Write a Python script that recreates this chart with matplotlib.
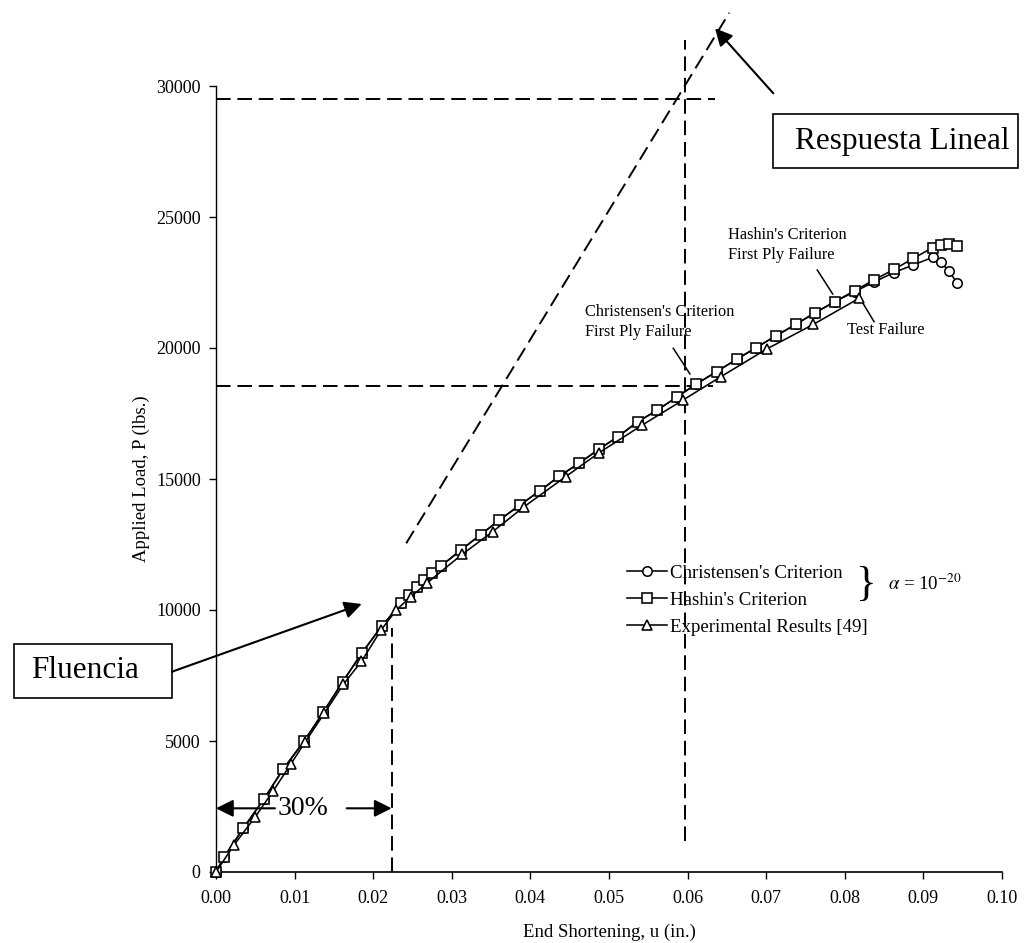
import matplotlib
matplotlib.use("Agg")
import matplotlib.pyplot as plt
from matplotlib.patches import Rectangle
from matplotlib.ticker import FormatStrFormatter

plt.rcParams['font.family'] = ['Liberation Serif', 'DejaVu Serif']
plt.rcParams['mathtext.fontset'] = 'stix'

# Hashin's criterion (squares)
hashin_u = [0.0, 0.00102, 0.00347, 0.00611, 0.00856, 0.0112, 0.01365, 0.01612, 0.01854,
            0.02108, 0.0236, 0.02459, 0.02561, 0.0265, 0.02754, 0.02859, 0.03117, 0.03368,
            0.03604, 0.03868, 0.04122, 0.04368, 0.04618, 0.04869, 0.05115, 0.05369, 0.05615,
            0.05869, 0.06113, 0.0637, 0.06625, 0.0687, 0.07121, 0.07375, 0.07625, 0.07875,
            0.08126, 0.08372, 0.08626, 0.08871, 0.09118, 0.0922, 0.09322, 0.09431]
hashin_p = [0, 560, 1670, 2790, 3930, 4990, 6100, 7260, 8350,
            9380, 10270, 10590, 10870, 11160, 11400, 11670, 12290, 12880,
            13430, 14010, 14550, 15110, 15600, 16130, 16620, 17190, 17630,
            18140, 18630, 19100, 19570, 20010, 20460, 20900, 21350, 21770,
            22190, 22600, 23000, 23420, 23830, 23930, 23970, 23890]

# Christensen's criterion (circles)
chris_u = hashin_u
chris_p = [0, 560, 1670, 2790, 3930, 4990, 6100, 7260, 8350,
           9380, 10270, 10590, 10870, 11160, 11400, 11670, 12290, 12880,
           13430, 14010, 14550, 15110, 15600, 16130, 16620, 17190, 17630,
           18140, 18630, 19100, 19570, 20010, 20460, 20900, 21350, 21770,
           22150, 22520, 22880, 23170, 23460, 23270, 22950, 22470]

# experimental results [49] (triangles)
exp_u = [0.0, 0.00229, 0.00496, 0.00729, 0.0095, 0.01132, 0.01378, 0.0162, 0.01851,
         0.02099, 0.02296, 0.02481, 0.02681, 0.0313, 0.0352, 0.03919, 0.04449, 0.04873,
         0.05424, 0.05945, 0.06421, 0.07006, 0.07599, 0.08184]
exp_p = [0, 1030, 2090, 3100, 4110, 4950, 6060, 7160, 8040,
         9230, 10010, 10510, 11020, 12120, 12990, 13940, 15090, 16000,
         17060, 18020, 18900, 19960, 20900, 21900]

xticks = [0.0, 0.01, 0.02, 0.03, 0.04, 0.05, 0.06, 0.07, 0.08, 0.09, 0.10]
yticks = [0, 5000, 10000, 15000, 20000, 25000, 30000]

# guide lines (dashed)
linear_u = [0.0242, 0.0653]
linear_p = [12545, 32795]
yield_u = 0.02235
yield_p = 9300
fpf_u = 0.0597
fpf_p = 18550
lin_top_p = 29500

W, H = 1034, 943
fig = plt.figure(figsize=(W / 100, H / 100), dpi=100)
ax = fig.add_axes([216 / W, 71 / H, 786 / W, 786 / H])

mk = dict(color='black', lw=1.15, mfc='white', mec='black', mew=1.15, clip_on=False)
l1, = ax.plot(chris_u, chris_p, marker='o', ms=6.8, zorder=3, label="Christensen's Criterion", **mk)
l2, = ax.plot(hashin_u, hashin_p, marker='s', ms=7.8, zorder=4, label="Hashin's Criterion", **mk)
l3, = ax.plot(exp_u, exp_p, marker='^', ms=7.8, zorder=5, label="Experimental Results [49]", **mk)

dash = dict(color='black', lw=1.4, dashes=(7.5, 3.5), clip_on=False, zorder=2)
ax.plot(linear_u, linear_p, **dash)
ax.plot([0, 0.0635], [lin_top_p, lin_top_p], **dash)
ax.plot([0, 0.0632], [fpf_p, fpf_p], **dash)
ax.plot([fpf_u, fpf_u], [1200, 31757], **dash)
ax.plot([yield_u, yield_u], [0, yield_p], **dash)

ax.set_xlim(0, 0.10)
ax.set_ylim(0, 30000)
ax.set_xticks(xticks)
ax.set_yticks(yticks)
ax.xaxis.set_major_formatter(FormatStrFormatter('%.2f'))
ax.spines['top'].set_visible(False)
ax.spines['right'].set_visible(False)
ax.spines['left'].set_linewidth(1.0)
ax.spines['bottom'].set_linewidth(1.2)
ax.tick_params(axis='both', direction='out', length=5, width=1, labelsize=13)
ax.tick_params(axis='x', pad=8)
ax.tick_params(axis='y', pad=6)
ax.set_xlabel('End Shortening, u (in.)', fontsize=13.5, labelpad=12)
ax.set_ylabel('Applied Load, P (lbs.)', fontsize=13.5, labelpad=4)

leg = ax.legend(handles=[l1, l2, l3], loc='upper left', bbox_to_anchor=(0.523, 0.391),
                frameon=False, fontsize=13.6, handlelength=2.1, handletextpad=0.15,
                labelspacing=0.52, borderpad=0, borderaxespad=0)
ax.text(0.08135, 10950, '}', fontsize=31, va='center', ha='left')
ax.text(0.0855, 11000, r'$\alpha$ = 10$^{-20}$', fontsize=13.6, va='center', ha='left')

# failure notes
ax.text(0.0651, 24618, "Hashin's Criterion\nFirst Ply Failure", fontsize=11.8, va='top',
        linespacing=1.3)
ax.plot([0.0765, 0.07846], [22977, 22061], color='black', lw=1.1)
ax.text(0.0470, 21680, "Christensen's Criterion\nFirst Ply Failure", fontsize=11.8, va='top',
        linespacing=1.3)
ax.plot([0.05818, 0.0603], [19989, 19008], color='black', lw=1.1)
ax.text(0.08032, 20992, "Test Failure", fontsize=11.8, va='top')
ax.plot([0.08193, 0.08372], [21897, 21004], color='black', lw=1.1)

arr = dict(arrowstyle='-|>', color='black', lw=1.5, mutation_scale=26, shrinkA=0, shrinkB=0)
ax.annotate('', xy=(0.06349, 32203), xytext=(0.0709, 29722), arrowprops=arr,
            annotation_clip=False)
ax.annotate('', xy=(0.01854, 10229), xytext=(-0.0056, 7645), arrowprops=arr,
            annotation_clip=False)
ax.annotate('', xy=(0.0, 2431), xytext=(0.0075, 2431), arrowprops=arr, annotation_clip=False)
ax.annotate('', xy=(yield_u, 2431), xytext=(0.01663, 2431), arrowprops=arr,
            annotation_clip=False)
ax.text(0.01113, 2431, '30%', fontsize=20, ha='center', va='center')

# boxed labels
fig.add_artist(Rectangle((773 / W, 1 - 168 / H), (1018 - 773) / W, 54 / H,
                         transform=fig.transFigure, fill=False, ec='black', lw=1.2))
fig.text(795 / W, 1 - 141 / H, 'Respuesta Lineal', fontsize=22.5, va='center', ha='left')
fig.add_artist(Rectangle((14 / W, 1 - 698 / H), (172 - 14) / W, 54 / H,
                         transform=fig.transFigure, fill=False, ec='black', lw=1.2))
fig.text(31 / W, 1 - 671 / H, 'Fluencia', fontsize=22.5, va='center', ha='left')

fig.savefig('out.png', dpi=100)
